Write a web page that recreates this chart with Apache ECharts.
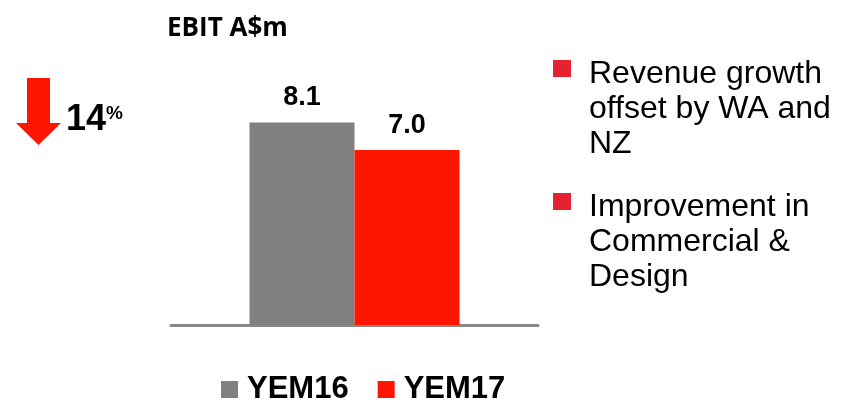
<!DOCTYPE html>
<html>
<head>
<meta charset="utf-8">
<script src="https://cdn.jsdelivr.net/npm/echarts@6/dist/echarts.min.js"></script>
<style>
  html, body { margin: 0; padding: 0; background: #fff; }
  #chart { width: 847px; height: 403px; }
</style>
</head>
<body>
<div id="chart"></div>
<script>
// data
var categories = ['EBIT'];
var seriesNames = ['YEM16', 'YEM17'];
var yem16 = [8.1];
var yem17 = [7.0];
var changeLabel = '14';
var bullets = [
  ['Revenue growth', 'offset by WA and', 'NZ'],
  ['Improvement in', 'Commercial &', 'Design']
];

var grey = '#808080';
var red = '#FF1500';
var bulletRed = '#E52330';
var font = 'Liberation Sans, Arial, sans-serif';

var chart = echarts.init(document.getElementById('chart'));

var barLabel = {
  show: true,
  position: 'top',
  distance: 11,
  fontFamily: font,
  fontWeight: 'bold',
  fontSize: 27,
  color: '#000',
  formatter: function (p) { return p.value.toFixed(1); }
};

// right hand bullet text
var graphics = [];
var ys = [57, 190];
bullets.forEach(function (lines, i) {
  graphics.push({
    type: 'rect',
    shape: { x: 553, y: ys[i] + 3, width: 18, height: 17 },
    style: { fill: bulletRed }
  });
  graphics.push({
    type: 'text',
    x: 589,
    y: ys[i],
    style: {
      text: lines.join('\n'),
      font: '32px ' + font,
      lineHeight: 35,
      fill: '#000',
      textVerticalAlign: 'top'
    }
  });
});

// down arrow + percentage
graphics.push({
  type: 'polygon',
  shape: { points: [[27, 78], [50, 78], [50, 123], [61, 123], [38.5, 145], [16, 123], [27, 123]] },
  style: { fill: red }
});
graphics.push({
  type: 'text',
  x: 66,
  y: 102,
  style: {
    text: changeLabel,
    font: 'bold 36px ' + font,
    fill: '#000',
    textVerticalAlign: 'top'
  }
});
graphics.push({
  type: 'text',
  x: 106,
  y: 104,
  style: {
    text: '%',
    font: 'bold 19px ' + font,
    fill: '#000',
    textVerticalAlign: 'top'
  }
});

chart.setOption({
  backgroundColor: '#fff',
  animation: false,
  title: {
    text: 'EBIT A$m',
    left: 162,
    top: 11,
    textStyle: { fontFamily: 'Open Sans', fontWeight: 'bold', fontSize: 26, color: '#000' }
  },
  legend: {
    data: seriesNames,
    left: 221,
    top: 374,
    padding: 0,
    itemWidth: 17,
    itemHeight: 17,
    itemGap: 29,
    icon: 'rect',
    textStyle: { fontFamily: font, fontWeight: 'bold', fontSize: 31, color: '#000', padding: [0, 0, 0, 4] }
  },
  grid: { left: 171, right: 847 - 538, top: 75, bottom: 78 },
  xAxis: {
    type: 'category',
    data: categories,
    axisLine: { lineStyle: { color: '#888', width: 3 } },
    axisTick: { show: false },
    axisLabel: { show: false }
  },
  yAxis: {
    type: 'value',
    min: 0,
    max: 10,
    show: false,
    splitLine: { show: false }
  },
  series: [
    {
      name: seriesNames[0],
      type: 'bar',
      data: yem16,
      barWidth: 105,
      barGap: '0%',
      itemStyle: { color: grey },
      label: barLabel
    },
    {
      name: seriesNames[1],
      type: 'bar',
      data: yem17,
      barWidth: 105,
      itemStyle: { color: red },
      label: barLabel
    }
  ],
  graphic: graphics
});
</script>
</body>
</html>
